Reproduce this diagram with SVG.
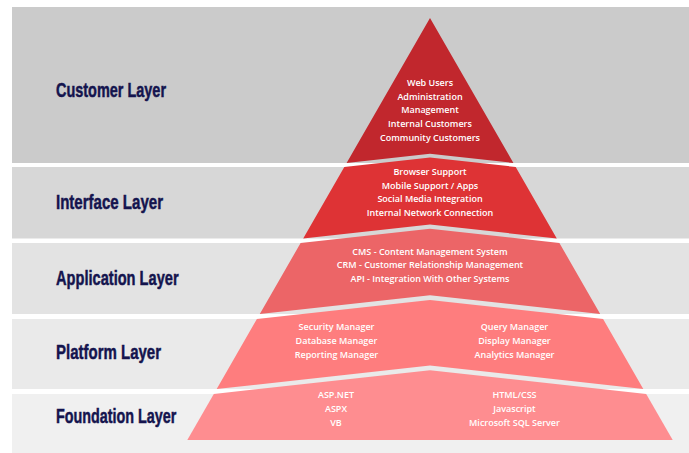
<svg xmlns="http://www.w3.org/2000/svg" width="689" height="453" viewBox="0 0 689 453">
<style>
.band{stroke:none}
.lbl{font-family:"Liberation Sans",Arial,sans-serif;font-weight:bold;font-size:21px;fill:#14144e;stroke:#14144e;stroke-width:0.5}
.t{font-family:"Open Sans","Noto Sans",sans-serif;font-weight:600;font-size:9px;fill:#ffffff;text-anchor:middle}
</style>
<rect width="689" height="453" fill="#ffffff"/>
<g id="bands">
<rect class="band" x="12" y="7" width="677" height="156" fill="#cbcbcb"/>
<rect class="band" x="12" y="167" width="677" height="71.5" fill="#d7d7d7"/>
<rect class="band" x="12" y="243" width="677" height="71" fill="#e3e3e3"/>
<rect class="band" x="12" y="319" width="677" height="70" fill="#eaeaea"/>
<rect class="band" x="12" y="394" width="677" height="59" fill="#f0f0f0"/>
</g>
<g id="customer">
<polygon points="430,18 346.6,163 430,153.8 513.4,163" fill="#c1272d"/>
<text class="lbl" x="56" y="97.3" textLength="110" lengthAdjust="spacingAndGlyphs">Customer Layer</text>
<text class="t" x="430" y="85.5">Web Users</text>
<text class="t" x="430" y="99.5">Administration</text>
<text class="t" x="430" y="113.2">Management</text>
<text class="t" x="430" y="127">Internal Customers</text>
<text class="t" x="430" y="141">Community Customers</text>
</g>
<g id="interface">
<polygon points="344.3,167 430,157.6 515.7,167 556.8,238.5 430,224.6 303.2,238.5" fill="#de3335"/>
<text class="lbl" x="56" y="209.3" textLength="107" lengthAdjust="spacingAndGlyphs">Interface Layer</text>
<text class="t" x="430" y="175">Browser Support</text>
<text class="t" x="430" y="188.5">Mobile Support / Apps</text>
<text class="t" x="430" y="202">Social Media Integration</text>
<text class="t" x="430" y="215.5">Internal Network Connection</text>
</g>
<g id="application">
<polygon points="300.6,243 430,228.8 559.4,243 600.2,314 430,295.3 259.8,314" fill="#ec6567"/>
<text class="lbl" x="56" y="285" textLength="122.6" lengthAdjust="spacingAndGlyphs">Application Layer</text>
<text class="t" x="430" y="254.5">CMS - Content Management System</text>
<text class="t" x="430" y="268">CRM - Customer Relationship Management</text>
<text class="t" x="430" y="281.5">API - Integration With Other Systems</text>
</g>
<g id="platform">
<polygon points="256.9,319 430,300 603.1,319 643.3,389 430,365.5 216.7,389" fill="#fe7d7e"/>
<text class="lbl" x="56" y="359.3" textLength="105" lengthAdjust="spacingAndGlyphs">Platform Layer</text>
<text class="t" x="336.5" y="330">Security Manager</text>
<text class="t" x="336.5" y="344">Database Manager</text>
<text class="t" x="336.5" y="357.5">Reporting Manager</text>
<text class="t" x="514.5" y="330">Query Manager</text>
<text class="t" x="514.5" y="344">Display Manager</text>
<text class="t" x="514.5" y="357.5">Analytics Manager</text>
</g>
<g id="foundation">
<polygon points="213.8,394 430,370.2 646.2,394 672.7,440 187.3,440" fill="#fe8d90"/>
<text class="lbl" x="56" y="423.3" textLength="120.4" lengthAdjust="spacingAndGlyphs">Foundation Layer</text>
<text class="t" x="336" y="398">ASP.NET</text>
<text class="t" x="336" y="412">ASPX</text>
<text class="t" x="336" y="426">VB</text>
<text class="t" x="514.5" y="398">HTML/CSS</text>
<text class="t" x="514.5" y="412">Javascript</text>
<text class="t" x="514.5" y="426">Microsoft SQL Server</text>
</g>
<g id="connectors"/>
</svg>
